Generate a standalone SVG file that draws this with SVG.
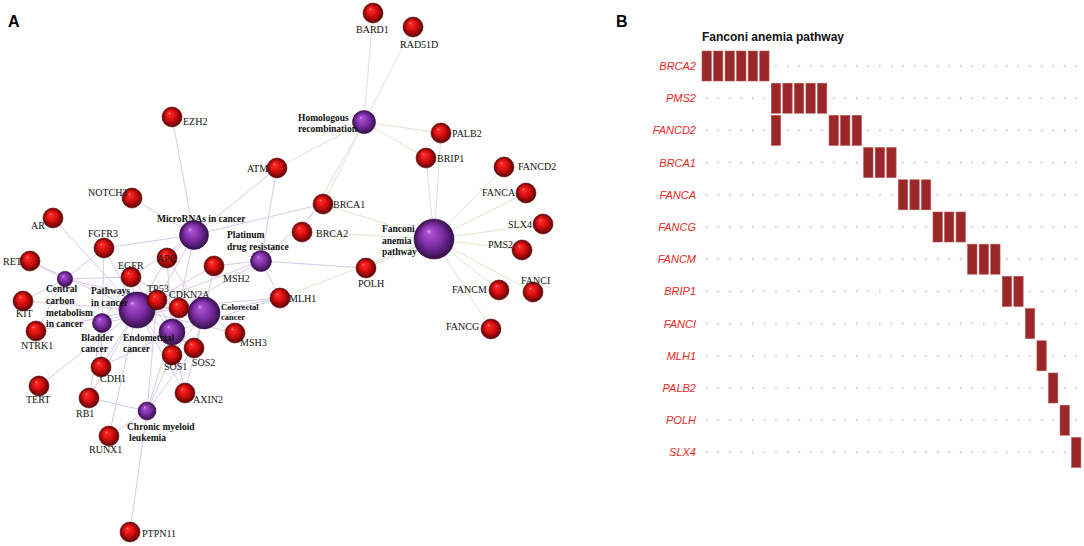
<svg xmlns="http://www.w3.org/2000/svg" width="1084" height="546" viewBox="0 0 1084 546">
<style>
.gl{font-family:"Liberation Serif",serif;font-size:10px;fill:#111}
.pl{font-family:"Liberation Serif",serif;font-size:9.5px;font-weight:bold;fill:#111}
.pls{font-family:"Liberation Serif",serif;font-size:8.5px;font-weight:bold;fill:#111}
.gene{fill:url(#gr);stroke:#5a0606;stroke-width:0.6}
.path{fill:url(#gp);stroke:#3a0e50;stroke-width:0.6}
.el{stroke:#d6cae6;stroke-width:1;fill:none}
.eg{stroke:#d9e6cf;stroke-width:1;fill:none}
.hd{font-family:"Liberation Sans",Arial,sans-serif;font-weight:bold;font-size:16px;fill:#000}
.tt{font-family:"Liberation Sans",Arial,sans-serif;font-weight:bold;font-size:12px;fill:#111}
.rl{font-family:"Liberation Sans",Arial,sans-serif;font-style:italic;font-size:11px;fill:#e8281e;text-anchor:end}
.bar{fill:#9a2828;stroke:#b85050;stroke-width:0.6}
</style>
<defs>
<radialGradient id="gr" cx="0.5" cy="0.5" r="0.5" fx="0.36" fy="0.3">
<stop offset="0" stop-color="#ffb0b0"/>
<stop offset="0.12" stop-color="#ff2a2a"/>
<stop offset="0.55" stop-color="#d20c0c"/>
<stop offset="1" stop-color="#5a0505"/>
</radialGradient>
<radialGradient id="gp" cx="0.5" cy="0.5" r="0.5" fx="0.36" fy="0.3">
<stop offset="0" stop-color="#e0b0f0"/>
<stop offset="0.12" stop-color="#a850d0"/>
<stop offset="0.55" stop-color="#7e2ea6"/>
<stop offset="1" stop-color="#35104a"/>
</radialGradient>
<pattern id="dots" patternUnits="userSpaceOnUse" x="702" y="50" width="11.55" height="32.2">
<circle cx="4.65" cy="16" r="1" fill="#c8c8c8"/>
</pattern>
</defs>
<rect width="1084" height="546" fill="#fff"/>
<text class="hd" x="8" y="27">A</text>
<text class="hd" x="616" y="27">B</text>

<g id="connectors">
<!-- Homologous recombination -->
<line class="eg" x1="364" y1="122" x2="373" y2="13"/>
<line class="eg" x1="364" y1="122" x2="413" y2="27"/>
<line class="eg" x1="364" y1="122" x2="441" y2="133"/>
<line class="eg" x1="364" y1="122" x2="426" y2="158"/>
<line class="eg" x1="364" y1="122" x2="323" y2="204"/>
<line class="eg" x1="364" y1="122" x2="302" y2="232"/>
<line class="eg" x1="364" y1="122" x2="277" y2="168"/>
<!-- Fanconi anemia pathway -->
<line class="eg" x1="434" y1="239" x2="302" y2="232"/>
<line class="eg" x1="434" y1="239" x2="522" y2="250"/>
<line class="eg" x1="434" y1="239" x2="504" y2="167"/>
<line class="eg" x1="434" y1="239" x2="323" y2="204"/>
<line class="eg" x1="434" y1="239" x2="526" y2="193"/>
<line class="eg" x1="434" y1="239" x2="491" y2="329"/>
<line class="eg" x1="434" y1="239" x2="499" y2="290"/>
<line class="eg" x1="434" y1="239" x2="426" y2="158"/>
<line class="eg" x1="434" y1="239" x2="533" y2="292"/>
<line class="eg" x1="434" y1="239" x2="280" y2="298"/>
<line class="eg" x1="434" y1="239" x2="441" y2="133"/>
<line class="eg" x1="434" y1="239" x2="366" y2="268"/>
<line class="eg" x1="434" y1="239" x2="543" y2="224"/>
<!-- MicroRNAs in cancer -->
<line class="el" x1="194" y1="235" x2="172" y2="117"/>
<line class="el" x1="194" y1="235" x2="277" y2="168"/>
<line class="el" x1="194" y1="235" x2="323" y2="204"/>
<line class="el" x1="194" y1="235" x2="132" y2="198"/>
<line class="el" x1="194" y1="235" x2="167" y2="258"/>
<line class="el" x1="194" y1="235" x2="157" y2="300"/>
<line class="el" x1="194" y1="235" x2="179" y2="308"/>
<line class="el" x1="194" y1="235" x2="131" y2="277"/>
<line class="el" x1="194" y1="235" x2="104" y2="248"/>
<!-- Platinum drug resistance -->
<line class="el" x1="261" y1="261" x2="277" y2="168"/>
<line class="el" x1="261" y1="261" x2="323" y2="204"/>
<line class="el" x1="261" y1="261" x2="214" y2="266"/>
<line class="el" x1="261" y1="261" x2="280" y2="298"/>
<line class="el" x1="261" y1="261" x2="157" y2="300"/>
<line class="el" x1="261" y1="261" x2="179" y2="308"/>
<line class="el" x1="261" y1="261" x2="366" y2="268"/>
<!-- Pathways in cancer -->
<line class="el" x1="137" y1="310" x2="53" y2="218"/>
<line class="el" x1="137" y1="310" x2="30" y2="261"/>
<line class="el" x1="137" y1="310" x2="23" y2="301"/>
<line class="el" x1="137" y1="310" x2="104" y2="248"/>
<line class="el" x1="137" y1="310" x2="131" y2="277"/>
<line class="el" x1="137" y1="310" x2="167" y2="258"/>
<line class="el" x1="137" y1="310" x2="157" y2="300"/>
<line class="el" x1="137" y1="310" x2="179" y2="308"/>
<line class="el" x1="137" y1="310" x2="214" y2="266"/>
<line class="el" x1="137" y1="310" x2="235" y2="333"/>
<line class="el" x1="137" y1="310" x2="280" y2="298"/>
<line class="el" x1="137" y1="310" x2="101" y2="367"/>
<line class="el" x1="137" y1="310" x2="89" y2="398"/>
<line class="el" x1="137" y1="310" x2="109" y2="436"/>
<line class="el" x1="137" y1="310" x2="172" y2="355"/>
<line class="el" x1="137" y1="310" x2="194" y2="348"/>
<line class="el" x1="137" y1="310" x2="185" y2="393"/>
<line class="el" x1="137" y1="310" x2="36" y2="331"/>
<line class="el" x1="137" y1="310" x2="39" y2="386"/>
<!-- Central carbon metabolism -->
<line class="el" x1="65" y1="279" x2="30" y2="261"/>
<line class="el" x1="65" y1="279" x2="23" y2="301"/>
<line class="el" x1="65" y1="279" x2="36" y2="331"/>
<line class="el" x1="65" y1="279" x2="104" y2="248"/>
<line class="el" x1="65" y1="279" x2="131" y2="277"/>
<line class="el" x1="65" y1="279" x2="157" y2="300"/>
<!-- Colorectal cancer -->
<line class="el" x1="204" y1="313" x2="167" y2="258"/>
<line class="el" x1="204" y1="313" x2="157" y2="300"/>
<line class="el" x1="204" y1="313" x2="214" y2="266"/>
<line class="el" x1="204" y1="313" x2="235" y2="333"/>
<line class="el" x1="204" y1="313" x2="280" y2="298"/>
<line class="el" x1="204" y1="313" x2="172" y2="355"/>
<line class="el" x1="204" y1="313" x2="194" y2="348"/>
<line class="el" x1="204" y1="313" x2="185" y2="393"/>
<line class="el" x1="204" y1="313" x2="131" y2="277"/>
<!-- Bladder cancer -->
<line class="el" x1="102" y1="323" x2="104" y2="248"/>
<line class="el" x1="102" y1="323" x2="131" y2="277"/>
<line class="el" x1="102" y1="323" x2="157" y2="300"/>
<line class="el" x1="102" y1="323" x2="179" y2="308"/>
<line class="el" x1="102" y1="323" x2="89" y2="398"/>
<line class="el" x1="102" y1="323" x2="101" y2="367"/>
<!-- Endometrial cancer -->
<line class="el" x1="172" y1="332" x2="167" y2="258"/>
<line class="el" x1="172" y1="332" x2="157" y2="300"/>
<line class="el" x1="172" y1="332" x2="131" y2="277"/>
<line class="el" x1="172" y1="332" x2="172" y2="355"/>
<line class="el" x1="172" y1="332" x2="194" y2="348"/>
<line class="el" x1="172" y1="332" x2="185" y2="393"/>
<line class="el" x1="172" y1="332" x2="101" y2="367"/>
<line class="el" x1="172" y1="332" x2="280" y2="298"/>
<!-- Chronic myeloid leukemia -->
<line class="el" x1="147" y1="411" x2="157" y2="300"/>
<line class="el" x1="147" y1="411" x2="179" y2="308"/>
<line class="el" x1="147" y1="411" x2="89" y2="398"/>
<line class="el" x1="147" y1="411" x2="109" y2="436"/>
<line class="el" x1="147" y1="411" x2="130" y2="532"/>
<line class="el" x1="147" y1="411" x2="172" y2="355"/>
<line class="el" x1="147" y1="411" x2="194" y2="348"/>
</g>

<!-- pathway nodes -->
<g id="n-homologous-recombination"><circle class="path" cx="364" cy="122" r="11.5"/><text class="pl" x="298" y="121">Homologous</text><text class="pl" x="298" y="132">recombination</text></g>
<g id="n-fanconi-anemia-pathway"><circle class="path" cx="434" cy="239" r="20"/><text class="pl" x="382" y="232">Fanconi</text><text class="pl" x="382" y="244">anemia</text><text class="pl" x="382" y="255">pathway</text></g>
<g id="n-micrornas-in-cancer"><circle class="path" cx="194" cy="235" r="14.5"/><text class="pl" x="157" y="222">MicroRNAs in cancer</text></g>
<g id="n-platinum-drug-resistance"><circle class="path" cx="261" cy="261" r="10.5"/><text class="pl" x="227" y="238">Platinum</text><text class="pl" x="227" y="250">drug resistance</text></g>
<g id="n-central-carbon-metabolism"><circle class="path" cx="65" cy="279" r="7.7"/><text class="pl" x="46" y="292">Central</text><text class="pl" x="46" y="304">carbon</text><text class="pl" x="46" y="316">metabolism</text><text class="pl" x="46" y="327">in cancer</text></g>
<g id="n-pathways-in-cancer"><circle class="path" cx="137" cy="310" r="18"/><text class="pl" x="91" y="294">Pathways</text><text class="pl" x="91" y="306">in cancer</text></g>
<g id="n-colorectal-cancer"><circle class="path" cx="204" cy="313" r="16"/><text class="pls" x="221" y="310">Colorectal</text><text class="pls" x="221" y="320">cancer</text></g>
<g id="n-bladder-cancer"><circle class="path" cx="102" cy="323" r="9.5"/><text class="pl" x="81" y="341">Bladder</text><text class="pl" x="81" y="352">cancer</text></g>
<g id="n-endometrial-cancer"><circle class="path" cx="172" cy="332" r="13"/><text class="pl" x="123" y="341">Endometrial</text><text class="pl" x="123" y="352">cancer</text></g>
<g id="n-chronic-myeloid-leukemia"><circle class="path" cx="147" cy="411" r="9"/><text class="pl" x="127" y="430">Chronic myeloid</text><text class="pl" x="129" y="441">leukemia</text></g>

<!-- gene nodes -->
<g id="n-BARD1"><circle class="gene" cx="373" cy="13" r="10"/><text class="gl" x="356" y="33">BARD1</text></g>
<g id="n-RAD51D"><circle class="gene" cx="413" cy="27" r="10"/><text class="gl" x="400" y="48">RAD51D</text></g>
<g id="n-PALB2"><circle class="gene" cx="441" cy="133" r="10"/><text class="gl" x="452" y="137">PALB2</text></g>
<g id="n-BRIP1"><circle class="gene" cx="426" cy="158" r="10"/><text class="gl" x="437" y="162">BRIP1</text></g>
<g id="n-FANCD2"><circle class="gene" cx="504" cy="167" r="10"/><text class="gl" x="518" y="170">FANCD2</text></g>
<g id="n-FANCA"><circle class="gene" cx="526" cy="193" r="10"/><text class="gl" x="482" y="196">FANCA</text></g>
<g id="n-SLX4"><circle class="gene" cx="543" cy="224" r="10"/><text class="gl" x="508" y="228">SLX4</text></g>
<g id="n-PMS2"><circle class="gene" cx="522" cy="250" r="10"/><text class="gl" x="488" y="248">PMS2</text></g>
<g id="n-FANCI"><circle class="gene" cx="533" cy="292" r="10"/><text class="gl" x="521" y="284">FANCI</text></g>
<g id="n-FANCM"><circle class="gene" cx="499" cy="290" r="10"/><text class="gl" x="452" y="293">FANCM</text></g>
<g id="n-FANCG"><circle class="gene" cx="491" cy="329" r="10"/><text class="gl" x="446" y="330">FANCG</text></g>
<g id="n-BRCA1"><circle class="gene" cx="323" cy="204" r="10"/><text class="gl" x="333" y="208">BRCA1</text></g>
<g id="n-BRCA2"><circle class="gene" cx="302" cy="232" r="10"/><text class="gl" x="316" y="237">BRCA2</text></g>
<g id="n-POLH"><circle class="gene" cx="366" cy="268" r="10"/><text class="gl" x="358" y="287">POLH</text></g>
<g id="n-MLH1"><circle class="gene" cx="280" cy="298" r="10"/><text class="gl" x="289" y="302">MLH1</text></g>
<g id="n-EZH2"><circle class="gene" cx="172" cy="117" r="10"/><text class="gl" x="183" y="125">EZH2</text></g>
<g id="n-ATM"><circle class="gene" cx="277" cy="168" r="10"/><text class="gl" x="247" y="172">ATM</text></g>
<g id="n-NOTCH3"><circle class="gene" cx="132" cy="198" r="10"/><text class="gl" x="88" y="196">NOTCH3</text></g>
<g id="n-AR"><circle class="gene" cx="53" cy="218" r="10"/><text class="gl" x="31" y="229">AR</text></g>
<g id="n-FGFR3"><circle class="gene" cx="104" cy="248" r="10"/><text class="gl" x="88" y="237">FGFR3</text></g>
<g id="n-RET"><circle class="gene" cx="30" cy="261" r="10"/><text class="gl" x="3" y="265">RET</text></g>
<g id="n-APC"><circle class="gene" cx="167" cy="258" r="10"/><text class="gl" x="157" y="262">APC</text></g>
<g id="n-EGFR"><circle class="gene" cx="131" cy="277" r="10"/><text class="gl" x="118" y="269">EGFR</text></g>
<g id="n-MSH2"><circle class="gene" cx="214" cy="266" r="10"/><text class="gl" x="223" y="282">MSH2</text></g>
<g id="n-KIT"><circle class="gene" cx="23" cy="301" r="10"/><text class="gl" x="16" y="317">KIT</text></g>
<g id="n-TP53"><circle class="gene" cx="157" cy="300" r="10"/><text class="gl" x="147" y="292">TP53</text></g>
<g id="n-CDKN2A"><circle class="gene" cx="179" cy="308" r="10"/><text class="gl" x="169" y="298">CDKN2A</text></g>
<g id="n-NTRK1"><circle class="gene" cx="36" cy="331" r="10"/><text class="gl" x="21" y="349">NTRK1</text></g>
<g id="n-MSH3"><circle class="gene" cx="235" cy="333" r="10"/><text class="gl" x="240" y="346">MSH3</text></g>
<g id="n-SOS2"><circle class="gene" cx="194" cy="348" r="10"/><text class="gl" x="192" y="366">SOS2</text></g>
<g id="n-SOS1"><circle class="gene" cx="172" cy="355" r="10"/><text class="gl" x="164" y="370">SOS1</text></g>
<g id="n-CDH1"><circle class="gene" cx="101" cy="367" r="10"/><text class="gl" x="100" y="382">CDH1</text></g>
<g id="n-TERT"><circle class="gene" cx="39" cy="386" r="10"/><text class="gl" x="26" y="403">TERT</text></g>
<g id="n-RB1"><circle class="gene" cx="89" cy="398" r="10"/><text class="gl" x="76" y="417">RB1</text></g>
<g id="n-AXIN2"><circle class="gene" cx="185" cy="393" r="10"/><text class="gl" x="193" y="403">AXIN2</text></g>
<g id="n-RUNX1"><circle class="gene" cx="109" cy="436" r="10"/><text class="gl" x="89" y="453">RUNX1</text></g>
<g id="n-PTPN11"><circle class="gene" cx="130" cy="532" r="10"/><text class="gl" x="142" y="537">PTPN11</text></g>

<!-- Panel B -->
<g id="panel-b">
<text class="tt" x="702" y="41">Fanconi anemia pathway</text>
<rect x="702" y="50" width="382" height="418.6" fill="url(#dots)"/>
<text class="rl" x="696" y="70">BRCA2</text>
<text class="rl" x="696" y="102.2">PMS2</text>
<text class="rl" x="696" y="134.4">FANCD2</text>
<text class="rl" x="696" y="166.6">BRCA1</text>
<text class="rl" x="696" y="198.8">FANCA</text>
<text class="rl" x="696" y="231">FANCG</text>
<text class="rl" x="696" y="263.2">FANCM</text>
<text class="rl" x="696" y="295.4">BRIP1</text>
<text class="rl" x="696" y="327.6">FANCI</text>
<text class="rl" x="696" y="359.8">MLH1</text>
<text class="rl" x="696" y="392">PALB2</text>
<text class="rl" x="696" y="424.2">POLH</text>
<text class="rl" x="696" y="456.4">SLX4</text>
<g id="bars">
<rect class="bar" x="702" y="51" width="9.3" height="30"/>
<rect class="bar" x="713.55" y="51" width="9.3" height="30"/>
<rect class="bar" x="725.1" y="51" width="9.3" height="30"/>
<rect class="bar" x="736.65" y="51" width="9.3" height="30"/>
<rect class="bar" x="748.2" y="51" width="9.3" height="30"/>
<rect class="bar" x="759.75" y="51" width="9.3" height="30"/>
<rect class="bar" x="771.3" y="83.2" width="9.3" height="30"/>
<rect class="bar" x="782.85" y="83.2" width="9.3" height="30"/>
<rect class="bar" x="794.4" y="83.2" width="9.3" height="30"/>
<rect class="bar" x="805.95" y="83.2" width="9.3" height="30"/>
<rect class="bar" x="817.5" y="83.2" width="9.3" height="30"/>
<rect class="bar" x="771.3" y="115.4" width="9.3" height="30"/>
<rect class="bar" x="829.05" y="115.4" width="9.3" height="30"/>
<rect class="bar" x="840.6" y="115.4" width="9.3" height="30"/>
<rect class="bar" x="852.15" y="115.4" width="9.3" height="30"/>
<rect class="bar" x="863.7" y="147.6" width="9.3" height="30"/>
<rect class="bar" x="875.25" y="147.6" width="9.3" height="30"/>
<rect class="bar" x="886.8" y="147.6" width="9.3" height="30"/>
<rect class="bar" x="898.35" y="179.8" width="9.3" height="30"/>
<rect class="bar" x="909.9" y="179.8" width="9.3" height="30"/>
<rect class="bar" x="921.45" y="179.8" width="9.3" height="30"/>
<rect class="bar" x="933" y="212" width="9.3" height="30"/>
<rect class="bar" x="944.55" y="212" width="9.3" height="30"/>
<rect class="bar" x="956.1" y="212" width="9.3" height="30"/>
<rect class="bar" x="967.65" y="244.2" width="9.3" height="30"/>
<rect class="bar" x="979.2" y="244.2" width="9.3" height="30"/>
<rect class="bar" x="990.75" y="244.2" width="9.3" height="30"/>
<rect class="bar" x="1002.3" y="276.4" width="9.3" height="30"/>
<rect class="bar" x="1013.85" y="276.4" width="9.3" height="30"/>
<rect class="bar" x="1025.4" y="308.6" width="9.3" height="30"/>
<rect class="bar" x="1036.95" y="340.8" width="9.3" height="30"/>
<rect class="bar" x="1048.5" y="373" width="9.3" height="30"/>
<rect class="bar" x="1060.05" y="405.2" width="9.3" height="30"/>
<rect class="bar" x="1071.6" y="437.4" width="9.3" height="30"/>
</g>
</g>
</svg>
